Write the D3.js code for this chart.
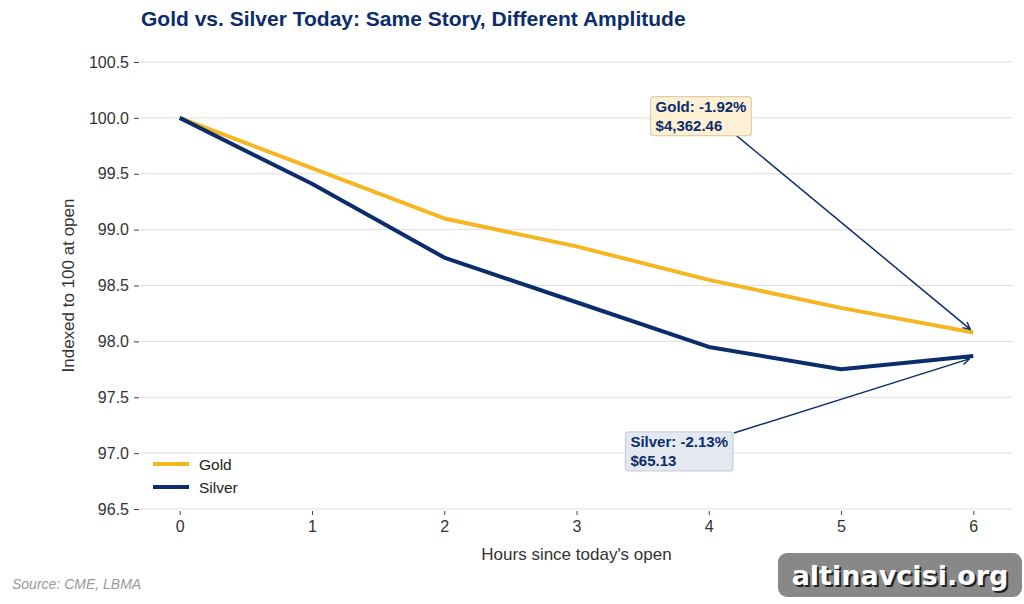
<!DOCTYPE html>
<html>
<head>
<meta charset="utf-8">
<script src="https://cdn.jsdelivr.net/npm/d3@7"></script>
<style>
  body { margin: 0; background: #fff; }
  svg { font-family: "Liberation Sans", Arial, sans-serif; display: block; }
</style>
</head>
<body>
<div id="chart"></div>
<script>
// data
const hours = [0, 1, 2, 3, 4, 5, 6]
const gold = [100.0, 99.55, 99.1, 98.85, 98.55, 98.3, 98.08]
const silver = [100.0, 99.41, 98.75, 98.35, 97.95, 97.75, 97.87]
const yTicks = [96.5, 97.0, 97.5, 98.0, 98.5, 99.0, 99.5, 100.0, 100.5]
const goldNote = ["Gold: -1.92%", "$4,362.46"]
const silverNote = ["Silver: -2.13%", "$65.13"]

const W = 1024, H = 604
const margin = { top: 62, right: 11, bottom: 95, left: 140 }

const navy = "#0c2d6b", goldCol = "#f5b622"

const svg = d3.select("#chart").append("svg")
    .attr("width", W).attr("height", H)

const x = d3.scaleLinear().domain([-0.3, 6.3]).range([margin.left, W - margin.right])
const y = d3.scaleLinear().domain([96.5, 100.5]).range([H - margin.bottom, margin.top])

// title
svg.append("text")
    .attr("x", 141).attr("y", 26)
    .attr("font-size", 21).attr("font-weight", "bold").attr("fill", navy)
    .text("Gold vs. Silver Today: Same Story, Different Amplitude")

// grid
svg.append("g").selectAll("line").data(yTicks).enter().append("line")
    .attr("x1", x.range()[0]).attr("x2", x.range()[1])
    .attr("y1", d => y(d)).attr("y2", d => y(d))
    .attr("stroke", "#dedede").attr("stroke-width", 1)

// y axis
const yAxis = svg.append("g")
    .attr("transform", "translate(" + (margin.left - 1) + ",0)")
    .call(d3.axisLeft(y).tickValues(yTicks).tickFormat(d3.format(".1f")).tickSize(5).tickPadding(5))
yAxis.select(".domain").remove()
yAxis.selectAll("line").attr("stroke", "#444")
yAxis.selectAll("text").attr("font-size", 16).attr("fill", "#333").attr("font-family", "Liberation Sans, Arial, sans-serif")

// x axis
const xAxis = svg.append("g")
    .attr("transform", "translate(0," + (H - margin.bottom + 2) + ")")
    .call(d3.axisBottom(x).tickValues(hours).tickFormat(d3.format("d")).tickSize(4).tickPadding(6))
xAxis.select(".domain").remove()
xAxis.selectAll("line").attr("stroke", "#444")
xAxis.selectAll("text").attr("font-size", 16).attr("fill", "#333").attr("font-family", "Liberation Sans, Arial, sans-serif")

// axis labels
svg.append("text")
    .attr("x", (x.range()[0] + x.range()[1]) / 2).attr("y", 560)
    .attr("text-anchor", "middle").attr("font-size", 17).attr("fill", "#333")
    .text("Hours since today's open")
svg.append("text")
    .attr("transform", "translate(74," + ((y.range()[0] + y.range()[1]) / 2) + ") rotate(-90)")
    .attr("text-anchor", "middle").attr("font-size", 17).attr("fill", "#333")
    .text("Indexed to 100 at open")

// lines
const line = d3.line()
    .x((d, i) => x(hours[i]))
    .y(d => y(d))

svg.append("path").datum(gold)
    .attr("fill", "none").attr("stroke", goldCol).attr("stroke-width", 4)
    .attr("stroke-linejoin", "round")
    .attr("d", line)
svg.append("path").datum(silver)
    .attr("fill", "none").attr("stroke", navy).attr("stroke-width", 4)
    .attr("stroke-linejoin", "round")
    .attr("d", line)

// arrow marker
svg.append("defs").append("marker")
    .attr("id", "arrow")
    .attr("viewBox", "0 0 10 10")
    .attr("refX", 9).attr("refY", 5)
    .attr("markerWidth", 9).attr("markerHeight", 9)
    .attr("markerUnits", "userSpaceOnUse")
    .attr("orient", "auto")
    .append("path")
    .attr("d", "M1,1 L9,5 L1,9")
    .attr("fill", "none").attr("stroke", navy).attr("stroke-width", 1.6)

function annotate(lines, boxX, boxY, bg, border, fromX, fromY, toX, toY) {
    svg.append("line")
        .attr("x1", fromX).attr("y1", fromY).attr("x2", toX).attr("y2", toY)
        .attr("stroke", navy).attr("stroke-width", 1.5)
        .attr("marker-end", "url(#arrow)")
    const g = svg.append("g").attr("transform", "translate(" + boxX + "," + boxY + ")")
    const rect = g.append("rect").attr("rx", 3).attr("ry", 3)
        .attr("fill", bg).attr("stroke", border).attr("stroke-width", 1.2)
    const t = g.append("text").attr("font-size", 15).attr("font-weight", "bold").attr("fill", navy)
    lines.forEach((s, i) => {
        t.append("tspan").attr("x", 5).attr("y", 15 + i * 19).text(s)
    })
    const bb = t.node().getBBox()
    rect.attr("x", 0).attr("y", 0).attr("width", bb.width + 10).attr("height", 39)
}

// gold annotation (box anchored in data space)
annotate(goldNote, x(3.56), y(100.19), "#fdf0d5", "#e0cfa8",
    x(4.15), y(99.9), x(6) - 3, y(gold[6]) + 2 - 5)
// silver annotation
annotate(silverNote, x(3.37), y(97.19), "#e4e8f0", "#c9cfdb",
    x(4.19), y(97.18), x(6) - 4, y(silver[6]) + 3)

// legend
const legend = svg.append("g").attr("transform", "translate(153,464)")
;[["Gold", goldCol], ["Silver", navy]].forEach(([name, col], i) => {
    legend.append("line").attr("x1", 0).attr("x2", 36)
        .attr("y1", i * 23).attr("y2", i * 23)
        .attr("stroke", col).attr("stroke-width", 4)
    legend.append("text").attr("x", 46).attr("y", i * 23 + 5.5)
        .attr("font-size", 15.5).attr("fill", "#222").text(name)
})

// source
svg.append("text")
    .attr("x", 12).attr("y", 589)
    .attr("font-size", 14).attr("font-style", "italic").attr("fill", "#999")
    .text("Source: CME, LBMA")

// watermark
svg.append("rect")
    .attr("x", 778).attr("y", 553).attr("width", 244).attr("height", 44)
    .attr("rx", 9).attr("ry", 9).attr("fill", "#888888")
svg.append("text")
    .attr("x", 902).attr("y", 587).attr("text-anchor", "middle")
    .attr("font-family", "DejaVu Sans, sans-serif").attr("font-weight", "bold")
    .attr("font-size", 27).attr("fill", "#222")
    .text("altinavcisi.org")
svg.append("text")
    .attr("x", 900).attr("y", 585).attr("text-anchor", "middle")
    .attr("font-family", "DejaVu Sans, sans-serif").attr("font-weight", "bold")
    .attr("font-size", 27).attr("fill", "#fff")
    .text("altinavcisi.org")
</script>
</body>
</html>
